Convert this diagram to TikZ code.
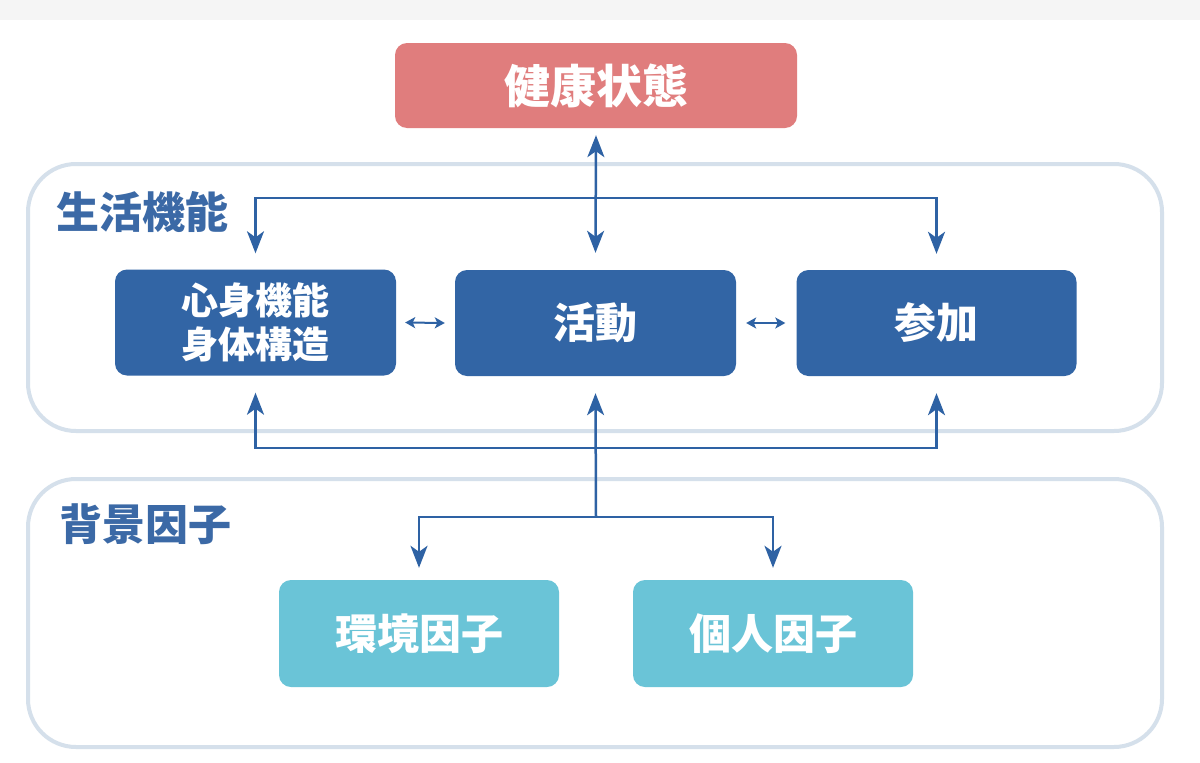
\documentclass[tikz,border=0pt]{standalone}
\usepackage{fontspec}
\newfontfamily\cjk{Noto Sans CJK JP}
\usetikzlibrary{arrows.meta,calc}
\definecolor{redbox}{HTML}{E07D7D}
\definecolor{bluebox}{HTML}{3265A5}
\definecolor{tealbox}{HTML}{6AC4D7}
\definecolor{frame}{HTML}{D5E0EB}
\definecolor{lbl}{HTML}{3B69A6}
\definecolor{conn}{HTML}{2E62A4}
\definecolor{strip}{HTML}{F5F5F5}
\tikzset{
  box/.style={rounded corners=12pt, inner sep=0pt, text=white, align=center,
    font=\cjk\bfseries},
  grouplbl/.style={anchor=west, text=lbl, inner sep=0pt, font=\cjk\bfseries\fontsize{43}{46}\selectfont},
  frm/.style={draw=frame, line width=4pt, rounded corners=48pt},
  cn/.style={draw=conn, line width=2.5pt, line join=miter,
    arrows={-Stealth[length=22pt,width=17pt,inset=6pt]}},
  cnb/.style={draw=conn, line width=2.5pt, line join=miter,
    arrows={Stealth[length=22pt,width=17pt,inset=6pt]-Stealth[length=22pt,width=17pt,inset=6pt]}},
  small/.style={draw=conn, line width=2pt,
    arrows={Stealth[length=10pt,width=11pt,inset=2.5pt]-Stealth[length=10pt,width=11pt,inset=2.5pt]}}
}
\begin{document}
\begin{tikzpicture}[x=1pt,y=-1pt]
\useasboundingbox (0,0) rectangle (1200,763);
\fill[white] (0,0) rectangle (1200,763);
\fill[strip] (0,0) rectangle (1200,20);
% containers
\draw[frm] (28,164) rectangle (1162,431);
\draw[frm] (28,479) rectangle (1162,747);
\node[grouplbl] (lblA) at (56,212) {生活機能};
\node[grouplbl] (lblB) at (59,524) {背景因子};
% nodes
\node[box, fill=redbox, minimum width=402pt, minimum height=85pt,
  font=\cjk\bfseries\fontsize{46}{50}\selectfont] (health) at (596,85.5) {健康状態};
\node[box, fill=bluebox, minimum width=281pt, minimum height=106pt,
  font=\cjk\bfseries\fontsize{37}{46}\selectfont] (body) at (255.5,322.5) {心身機能\\[-2pt]身体構造};
\node[box, fill=bluebox, minimum width=281pt, minimum height=106pt,
  font=\cjk\bfseries\fontsize{42}{46}\selectfont] (act) at (595.5,323) {活動};
\node[box, fill=bluebox, minimum width=280pt, minimum height=106pt,
  font=\cjk\bfseries\fontsize{42}{46}\selectfont] (part) at (936.5,323) {参加};
\node[box, fill=tealbox, minimum width=280pt, minimum height=107pt,
  font=\cjk\bfseries\fontsize{42}{46}\selectfont] (env) at (419,633.5) {環境因子};
\node[box, fill=tealbox, minimum width=280pt, minimum height=107pt,
  font=\cjk\bfseries\fontsize{42}{46}\selectfont] (pers) at (773,633.5) {個人因子};
% junction coordinates
\coordinate (top) at (596,198);
\coordinate (bot) at (596,448);
\coordinate (fork) at (596,517);
% connectors
\draw[cnb] ([yshift=-7pt]health.south) -- ([yshift=17pt]act.north);
\draw[cnb] ([yshift=16pt]body.north) -- (body.north |- top) -- (part.north |- top) -- ([yshift=16pt]part.north);
\draw[cnb] ([yshift=-17pt]body.south) -- (body.south |- bot) -- (part.south |- bot) -- ([yshift=-17pt]part.south);
\draw[cn] (fork) -- ([yshift=-17pt]act.south);
\draw[cnb] ([yshift=12pt]env.north) -- (env.north |- fork) -- (pers.north |- fork) -- ([yshift=12pt]pers.north);
\draw[small] ([xshift=9pt]body.east) -- ([xshift=-10pt]act.west);
\draw[small] ([xshift=10pt]act.east) -- ([xshift=-11pt]part.west);
\end{tikzpicture}
\end{document}
